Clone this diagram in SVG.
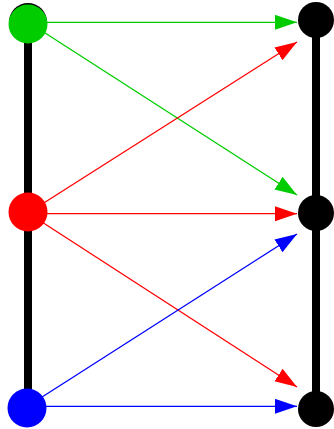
<svg xmlns="http://www.w3.org/2000/svg" width="334" height="429" viewBox="0 0 334 429">
<style>
.rail{stroke:#000;stroke-width:8;fill:none}
.e{stroke-width:1.3;fill:none}
.g{stroke:#00cc00}.r{stroke:#ff0000}.b{stroke:#0000ff}
</style>
<defs>
<marker id="ag" markerUnits="userSpaceOnUse" markerWidth="24" markerHeight="16" refX="22" refY="7.5" orient="auto"><path d="M0,0 L22,7.5 L0,15 Z" fill="#00cc00"/></marker>
<marker id="ar" markerUnits="userSpaceOnUse" markerWidth="24" markerHeight="16" refX="22" refY="7.5" orient="auto"><path d="M0,0 L22,7.5 L0,15 Z" fill="#ff0000"/></marker>
<marker id="ab" markerUnits="userSpaceOnUse" markerWidth="24" markerHeight="16" refX="22" refY="7.5" orient="auto"><path d="M0,0 L22,7.5 L0,15 Z" fill="#0000ff"/></marker>
</defs>
<rect width="334" height="429" fill="#fff"/>
<g id="connectors">
<line class="rail" x1="28" y1="22" x2="28" y2="408"/>
<line class="rail" x1="316" y1="21" x2="316" y2="408"/>
<line class="e g" x1="28" y1="22.3" x2="297" y2="22.3" marker-end="url(#ag)"/>
<line class="e g" x1="28" y1="22" x2="297" y2="195" marker-end="url(#ag)"/>
<line class="e r" x1="28" y1="213" x2="297" y2="42" marker-end="url(#ar)"/>
<line class="e r" x1="28" y1="213.7" x2="297" y2="213.7" marker-end="url(#ar)"/>
<line class="e r" x1="28" y1="213" x2="297" y2="387" marker-end="url(#ar)"/>
<line class="e b" x1="28" y1="406" x2="297" y2="234" marker-end="url(#ab)"/>
<line class="e b" x1="28" y1="406.3" x2="297" y2="406.3" marker-end="url(#ab)"/>
</g>
<g id="green"><circle cx="28" cy="22" r="19" fill="#000"/><circle cx="28" cy="24" r="19.5" fill="#00cc00"/></g>
<g id="red"><circle cx="28" cy="212" r="19.5" fill="#ff0000"/></g>
<g id="blue"><circle cx="27" cy="408" r="19.5" fill="#0000ff"/></g>
<g id="t1"><circle cx="316" cy="20" r="18" fill="#000"/></g>
<g id="t2"><circle cx="316" cy="213" r="18" fill="#000"/></g>
<g id="t3"><circle cx="316" cy="409" r="18" fill="#000"/></g>
</svg>
